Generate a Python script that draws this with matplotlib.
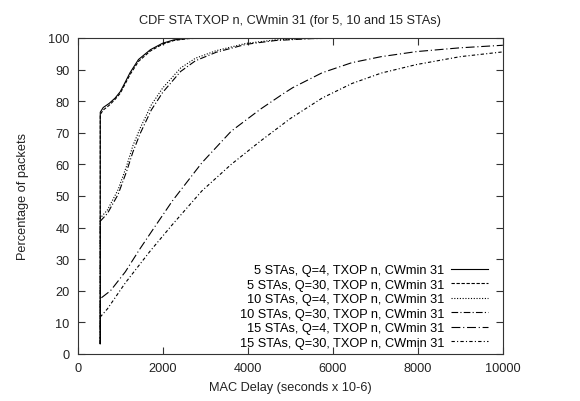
import matplotlib
matplotlib.use("Agg")
import matplotlib.pyplot as plt

plt.rcParams['font.family'] = ['Liberation Sans', 'DejaVu Sans']

# MAC delay (us) / percentage of packets
x_5_q4 = [530, 530, 600, 740, 880, 1000, 1090, 1230, 1430, 1710, 1990, 2260, 2600, 3000, 10000]
y_5_q4 = [3.2, 76.5, 78.0, 79.3, 81.0, 83.0, 85.3, 89.0, 93.2, 96.3, 98.3, 99.4, 99.9, 100, 100]

x_5_q30 = [530, 530, 600, 740, 880, 1000, 1090, 1230, 1430, 1710, 1990, 2260, 2600, 3100, 10000]
y_5_q30 = [3.2, 75.8, 77.2, 78.7, 80.6, 82.5, 84.8, 88.4, 92.6, 95.9, 98.0, 99.2, 99.8, 100, 100]

x_10_q4 = [530, 530, 700, 950, 1150, 1300, 1470, 1730, 2000, 2420, 2770, 3260, 3960, 4650, 5500, 6500, 10000]
y_10_q4 = [3.2, 43.0, 45.6, 52.0, 59.5, 66.0, 71.5, 78.8, 84.2, 90.5, 93.6, 96.0, 98.3, 99.4, 99.9, 100, 100]

x_10_q30 = [530, 530, 700, 950, 1150, 1300, 1470, 1730, 2000, 2420, 2770, 3260, 3960, 4650, 5500, 6500, 10000]
y_10_q30 = [3.2, 42.0, 44.5, 50.5, 57.8, 64.0, 69.8, 77.2, 82.8, 89.4, 92.8, 95.5, 98.0, 99.2, 99.8, 100, 100]

x_15_q4 = [530, 530, 770, 1120, 1450, 1800, 2230, 2920, 3610, 4300, 4850, 5060, 5750, 6450, 7140, 7970, 9000, 10000]
y_15_q4 = [3.2, 17.5, 20.0, 26.0, 33.0, 40.0, 48.5, 60.5, 70.5, 77.5, 82.5, 84.3, 89.0, 92.2, 94.1, 95.7, 96.9, 97.7]

x_15_q30 = [530, 530, 700, 1120, 1700, 2230, 2920, 3610, 4300, 5000, 5750, 6450, 7140, 7970, 9000, 10000]
y_15_q30 = [3.2, 11.7, 14.3, 22.5, 32.5, 41.0, 51.6, 60.0, 67.4, 74.5, 81.0, 85.6, 88.9, 91.6, 94.1, 95.6]

labels = ["5 STAs, Q=4, TXOP n, CWmin 31",
          "5 STAs, Q=30, TXOP n, CWmin 31",
          "10 STAs, Q=4, TXOP n, CWmin 31",
          "10 STAs, Q=30, TXOP n, CWmin 31",
          "15 STAs, Q=4, TXOP n, CWmin 31",
          "15 STAs, Q=30, TXOP n, CWmin 31"]

fs = 9.2
fig = plt.figure(figsize=(5.8, 4.02), dpi=100)
ax = fig.add_axes([0.134, 0.117, 0.733, 0.786])

lw = 0.8
ax.plot(x_5_q4, y_5_q4, color="black", lw=lw, linestyle="-", label=labels[0])
ax.plot(x_5_q30, y_5_q30, color="black", lw=lw, linestyle=(0, (3, 1.5)), label=labels[1])
ax.plot(x_10_q4, y_10_q4, color="black", lw=lw, linestyle=(0, (1, 1.5)), label=labels[2])
ax.plot(x_10_q30, y_10_q30, color="black", lw=lw, linestyle=(0, (6, 2, 1, 2)), label=labels[3])
ax.plot(x_15_q4, y_15_q4, color="black", lw=lw, linestyle=(0, (8, 2.5, 1, 2.5)), label=labels[4])
ax.plot(x_15_q30, y_15_q30, color="black", lw=lw, linestyle=(0, (3, 2, 1, 2)), label=labels[5])

ax.set_xlim(0, 10000)
ax.set_ylim(0, 100)
ax.set_xticks(range(0, 10001, 2000))
ax.set_yticks(range(0, 101, 10))
ax.tick_params(direction="in", length=5, width=0.8, top=True, right=True,
               labelsize=fs, colors="#333333", labelcolor="#222222", pad=6)
for s in ax.spines.values():
    s.set_linewidth(0.8)
    s.set_color("#333333")

ax.set_title("CDF STA TXOP n, CWmin 31 (for 5, 10 and 15 STAs)", fontsize=fs,
             color="#222222", pad=11)
ax.set_xlabel("MAC Delay (seconds x 10-6)", fontsize=fs, color="#222222", labelpad=5)
ax.set_ylabel("Percentage of packets", fontsize=fs, color="#222222", labelpad=14)

ax.legend(loc="lower right", frameon=False, markerfirst=False, fontsize=fs,
          handlelength=2.9, handletextpad=0.5, labelspacing=0.2,
          borderaxespad=0.2, borderpad=0.2,
          bbox_to_anchor=(0.977, 0.0))

fig.savefig("out.png", dpi=100)
